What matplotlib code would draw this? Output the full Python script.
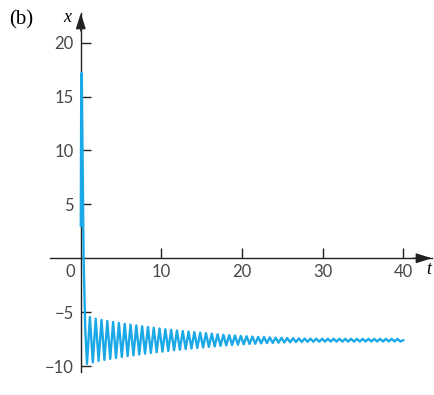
import numpy as np
import matplotlib
matplotlib.use("Agg")
import matplotlib.pyplot as plt

# start of the curve: jump up, then the fall to the first trough
spike_t = [0.0, 0.06, 0.12, 0.35, 0.55]
spike_x = [3.0, 17.0, 17.2, 0.0, -6.5]

# extrema of the oscillation
t_first_trough = 0.77
half_period = 0.36
trough_x = [-9.80, -9.65, -9.52, -9.43, -9.33, -9.25, -9.16, -9.08, -9.00, -8.93,
            -8.85, -8.78, -8.72, -8.66, -8.59, -8.53, -8.48, -8.42, -8.37, -8.32,
            -8.27, -8.22, -8.18, -8.13, -8.09, -8.05, -8.02, -7.98, -7.95, -7.93,
            -7.90, -7.87, -7.85, -7.83, -7.81, -7.79, -7.77, -7.76, -7.75, -7.74,
            -7.74, -7.73, -7.73, -7.73, -7.73, -7.73, -7.73, -7.72, -7.72, -7.72,
            -7.72, -7.72, -7.72, -7.72, -7.72]
peak_x = [-5.45, -5.60, -5.72, -5.82, -5.91, -6.00, -6.08, -6.16, -6.24, -6.31,
          -6.38, -6.45, -6.51, -6.58, -6.64, -6.70, -6.75, -6.80, -6.85, -6.90,
          -6.95, -7.00, -7.05, -7.09, -7.13, -7.16, -7.20, -7.23, -7.26, -7.29,
          -7.31, -7.34, -7.36, -7.38, -7.40, -7.42, -7.43, -7.45, -7.46, -7.46,
          -7.47, -7.47, -7.47, -7.47, -7.47, -7.47, -7.48, -7.48, -7.48, -7.48,
          -7.48, -7.48, -7.48, -7.48]
t_end = 40.0
x_end = -7.6

xticks = [10, 20, 30, 40]
yticks = [-10, -5, 5, 10, 15, 20]
ytick_labels = ["\u221210", "\u22125", "5", "10", "15", "20"]

n = len(trough_x) + len(peak_x)
ext_t = t_first_trough + half_period * np.arange(n)
ext_x = np.empty(n)
ext_x[0::2] = trough_x
ext_x[1::2] = peak_x

t = np.concatenate([spike_t, ext_t, [t_end]])
x = np.concatenate([spike_x, ext_x, [x_end]])

fig = plt.figure(figsize=(4.35, 3.95), dpi=100)
ax = fig.add_axes([50 / 435, 23 / 395, 382 / 435, 359 / 395])
ax.set_xlim(-3.82, 43.57)
ax.set_ylim(-10.55, 22.75)

ax.plot(t, x, color="#1aa8e6", lw=1.7, zorder=4, solid_joinstyle="round")

for s in ["top", "right"]:
    ax.spines[s].set_visible(False)
ax.spines["left"].set_position(("data", 0))
ax.spines["bottom"].set_position(("data", 0))
for s in ["left", "bottom"]:
    ax.spines[s].set_linewidth(1.0)
    ax.spines[s].set_color("#222222")

ax.set_xticks(xticks)
ax.set_xticklabels([str(v) for v in xticks])
ax.set_yticks(yticks)
ax.set_yticklabels(ytick_labels)
ax.tick_params(direction="in", length=7, width=1, color="#222222",
               labelsize=12, labelcolor="#474747")
ax.tick_params(axis="x", pad=4)
ax.tick_params(axis="y", pad=5)
for lab in ax.get_xticklabels() + ax.get_yticklabels():
    lab.set_family("Lato")

# arrow heads
ap = dict(arrowstyle="-|>,head_length=0.8,head_width=0.25", color="#222222",
          lw=1.0, mutation_scale=12, shrinkA=0, shrinkB=0)
ax.annotate("", xy=(1, 0), xytext=(0.95, 0),
            xycoords=("axes fraction", "data"), textcoords=("axes fraction", "data"),
            arrowprops=ap)
ax.annotate("", xy=(0, 1), xytext=(0, 0.95),
            xycoords=("data", "axes fraction"), textcoords=("data", "axes fraction"),
            arrowprops=ap)

ax.annotate("0", xy=(0, 0), xytext=(-4, -4), textcoords="offset points",
            ha="right", va="top", fontsize=12, color="#474747", family="Lato")
fig.text(67 / 435, 1 - 17 / 395, "x", fontsize=13, style="italic",
         family="Liberation Serif", ha="center", va="center")
fig.text(429 / 435, 1 - 270 / 395, "t", fontsize=13, style="italic",
         family="Liberation Serif", ha="center", va="center")
fig.text(21 / 435, 1 - 20 / 395, "(b)", fontsize=15,
         family="Liberation Serif", ha="center", va="center")

fig.savefig("out.png", dpi=100)
